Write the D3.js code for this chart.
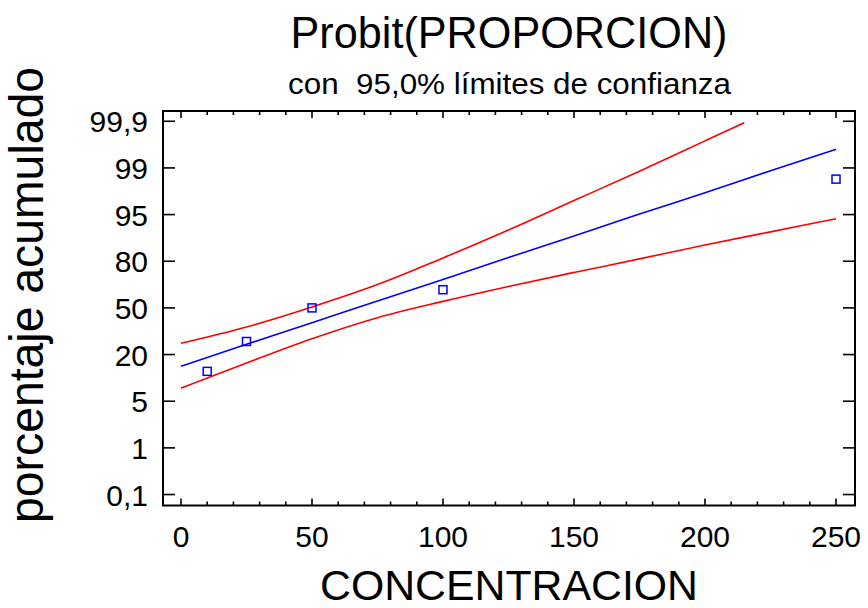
<!DOCTYPE html>
<html>
<head>
<meta charset="utf-8">
<script src="https://cdn.jsdelivr.net/npm/d3@7"></script>
<style>
  html, body { margin: 0; padding: 0; background: #fff; }
  svg { display: block; }
  text { font-family: "Liberation Sans", Arial, Helvetica, sans-serif; fill: #000; }
</style>
</head>
<body>
<svg id="chart" width="868" height="608"></svg>
<script>
// ---- data (y values are in the chart's probit display units: one unit per labelled tick) ----
const titleText = "Probit(PROPORCION)";
const subtitleText = "con  95,0% límites de confianza";
const xTitle = "CONCENTRACION";
const yTitle = "porcentaje acumulado";

const xTickValues = [0, 50, 100, 150, 200, 250];
const yTickValues = [-4, -3, -2, -1, 0, 1, 2, 3, 4];
const yTickLabels = ["0,1", "1", "5", "20", "50", "80", "95", "99", "99,9"];

const obsConc = [10, 25, 50, 100, 250];
const obsProbit = [-1.36, -0.72, 0.00, 0.39, 2.76];

const fitConc = [0, 25, 50, 75, 100, 125, 150, 175, 200, 225, 250];
const fitProbit = [-1.25, -0.78, -0.32, 0.15, 0.61, 1.08, 1.54, 2.01, 2.47, 2.94, 3.40];

const upperConc = [0, 25, 50, 75, 100, 125, 150, 175, 200, 215];
const upperProbit = [-0.76, -0.41, 0.02, 0.50, 1.07, 1.67, 2.30, 2.93, 3.58, 3.97];

const lowerConc = [0, 25, 50, 75, 100, 125, 150, 175, 200, 225, 250];
const lowerProbit = [-1.72, -1.18, -0.66, -0.21, 0.14, 0.46, 0.76, 1.05, 1.35, 1.63, 1.91];

// ---- layout ----
const svg = d3.select("#chart");
const L = 163, R = 855, T = 111, B = 505.5;

const x = d3.scaleLinear().domain([-6.87, 257.25]).range([L, R]);
const y = d3.scaleLinear().domain([-4.235, 4.22]).range([B, T]);

// frame
svg.append("rect")
  .attr("x", L).attr("y", T).attr("width", R - L).attr("height", B - T)
  .attr("fill", "none").attr("stroke", "#000").attr("stroke-width", 2);

// y ticks (left and right, inward)
const tickG = svg.append("g").attr("stroke", "#000").attr("stroke-width", 1.6);
yTickValues.forEach(v => {
  tickG.append("line").attr("x1", L).attr("x2", L + 12).attr("y1", y(v)).attr("y2", y(v));
  tickG.append("line").attr("x1", R - 12).attr("x2", R).attr("y1", y(v)).attr("y2", y(v));
});
// x ticks (bottom and top, inward)
const minor = x.ticks(25);
minor.forEach(v => {
  const len = xTickValues.includes(v) ? 7 : 4;
  tickG.append("line").attr("x1", x(v)).attr("x2", x(v)).attr("y1", B).attr("y2", B - len);
  tickG.append("line").attr("x1", x(v)).attr("x2", x(v)).attr("y1", T).attr("y2", T + len);
});

// tick labels
svg.append("g").selectAll("text").data(yTickValues).join("text")
  .attr("x", 148).attr("y", d => y(d) + 11)
  .attr("text-anchor", "end").attr("font-size", 30)
  .text((d, i) => yTickLabels[i]);

svg.append("g").selectAll("text").data(xTickValues).join("text")
  .attr("x", d => x(d)).attr("y", 547)
  .attr("text-anchor", "middle").attr("font-size", 30)
  .text(d => d);

// lines
const line = d3.line().x(d => x(d[0])).y(d => y(d[1])).curve(d3.curveMonotoneX);
const plotG = svg.append("g");
plotG.append("path").datum(d3.zip(upperConc, upperProbit))
  .attr("d", line).attr("fill", "none").attr("stroke", "#ff0000").attr("stroke-width", 1.6);
plotG.append("path").datum(d3.zip(lowerConc, lowerProbit))
  .attr("d", line).attr("fill", "none").attr("stroke", "#ff0000").attr("stroke-width", 1.6);
plotG.append("path").datum(d3.zip(fitConc, fitProbit))
  .attr("d", line).attr("fill", "none").attr("stroke", "#0000ff").attr("stroke-width", 1.6);

// observed points
plotG.selectAll("rect.pt").data(d3.zip(obsConc, obsProbit)).join("rect")
  .attr("class", "pt")
  .attr("x", d => x(d[0]) - 4).attr("y", d => y(d[1]) - 4)
  .attr("width", 8).attr("height", 8)
  .attr("fill", "none").attr("stroke", "#0000ff").attr("stroke-width", 1.5);

// titles
svg.append("text").attr("x", 509).attr("y", 48)
  .attr("text-anchor", "middle").attr("font-size", 45)
  .attr("textLength", 437).attr("lengthAdjust", "spacingAndGlyphs")
  .text(titleText);
svg.append("text").attr("x", 509.5).attr("y", 94)
  .attr("text-anchor", "middle").attr("font-size", 29)
  .style("white-space", "pre")
  .attr("textLength", 443).attr("lengthAdjust", "spacingAndGlyphs")
  .text(subtitleText);
svg.append("text").attr("x", 509).attr("y", 600)
  .attr("text-anchor", "middle").attr("font-size", 42)
  .attr("textLength", 378).attr("lengthAdjust", "spacingAndGlyphs")
  .text(xTitle);
svg.append("text")
  .attr("transform", "translate(43,295) rotate(-90)")
  .attr("text-anchor", "middle").attr("font-size", 48)
  .attr("textLength", 456).attr("lengthAdjust", "spacingAndGlyphs")
  .text(yTitle);
</script>
</body>
</html>
